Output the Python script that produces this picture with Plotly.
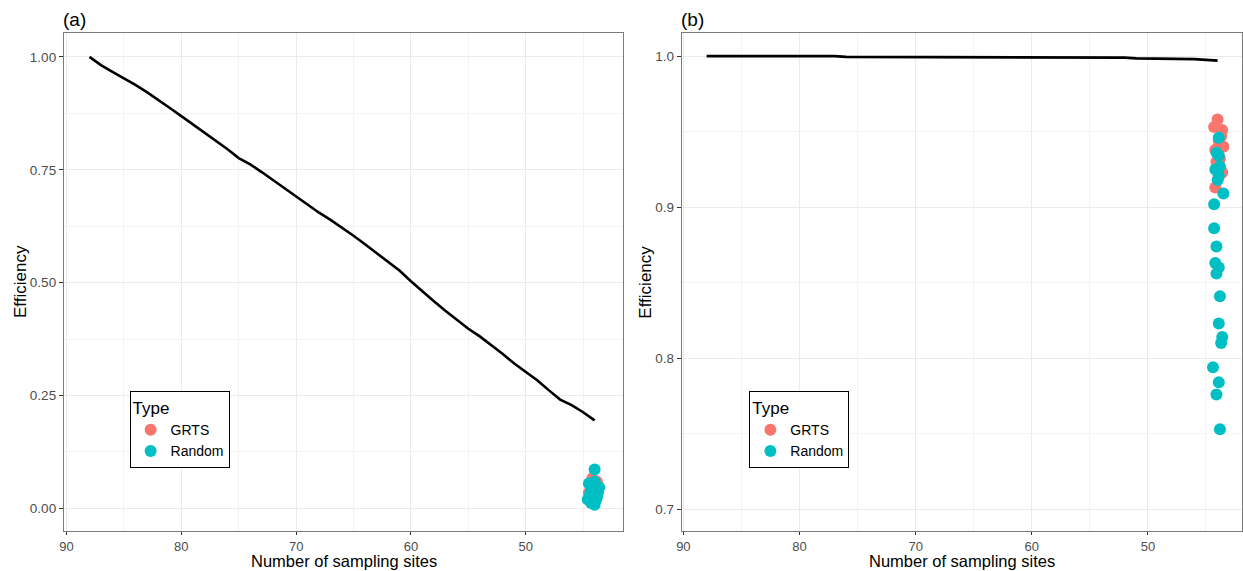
import plotly.graph_objects as go

# ---------------- data ----------------
sites = [88, 87, 86, 85, 84, 83, 82, 81, 80, 79, 78, 77, 76, 75, 74, 73, 72, 71, 70,
         69, 68, 67, 66, 65, 64, 63, 62, 61, 60, 59, 58, 57, 56, 55, 54, 53, 52, 51, 50,
         49, 48, 47, 46, 45, 44]
eff_a_line = [1.000, 0.982, 0.967, 0.953, 0.938, 0.922, 0.905, 0.887, 0.869, 0.851,
              0.833, 0.815, 0.796, 0.776, 0.762, 0.745, 0.727, 0.708, 0.690, 0.672,
              0.655, 0.639, 0.622, 0.604, 0.585, 0.566, 0.547, 0.527, 0.503, 0.480,
              0.459, 0.438, 0.417, 0.398, 0.381, 0.362, 0.342, 0.321, 0.303, 0.284,
              0.262, 0.241, 0.229, 0.213, 0.195]
eff_b_line = [1.000, 1.000, 1.000, 1.000, 1.000, 1.000, 1.000, 1.000, 1.000, 1.000,
              1.000, 1.000, 0.9995, 0.9995, 0.9995, 0.9995, 0.9995, 0.9995, 0.9995, 0.9995,
              0.9995, 0.9995, 0.9995, 0.9995, 0.9995, 0.9995, 0.9995, 0.9995, 0.9995, 0.9995,
              0.9995, 0.9995, 0.999, 0.999, 0.999, 0.999, 0.999, 0.9985, 0.9985, 0.998,
              0.998, 0.998, 0.998, 0.9975, 0.997]

# panel (a) points
a_grts_x = [44.2, 43.8, 44.4, 44.0, 43.7, 44.3, 44.1, 43.9, 44.5, 44.0]
a_grts_y = [0.067, 0.059, 0.055, 0.050, 0.048, 0.045, 0.042, 0.040, 0.035, 0.030]
a_rand_x = [44.0, 44.0, 44.5, 44.2, 43.6, 43.9, 44.3, 44.1, 43.7, 44.4, 44.0, 43.8,
            44.2, 44.6, 43.9, 44.1, 44.3, 44.0]
a_rand_y = [0.086, 0.059, 0.055, 0.050, 0.047, 0.045, 0.041, 0.037, 0.035, 0.032,
            0.028, 0.025, 0.023, 0.020, 0.018, 0.015, 0.012, 0.008]

# panel (b) points
b_grts_x = [44.0, 44.3, 43.6, 43.7, 43.9, 43.5, 44.2, 43.8, 44.1, 43.6, 43.9, 44.2]
b_grts_y = [0.958, 0.953, 0.951, 0.947, 0.944, 0.940, 0.938, 0.932, 0.930, 0.923,
            0.920, 0.913]
b_rand_x = [43.9, 44.1, 43.9, 43.8, 44.2, 43.9, 44.0, 43.5, 44.3, 44.3, 44.1, 44.2,
            43.9, 44.1, 43.8, 43.9, 43.6, 43.7, 44.4, 43.9, 44.1, 43.8]
b_rand_y = [0.946, 0.936, 0.934, 0.927, 0.925, 0.921, 0.918, 0.909, 0.902, 0.886,
            0.874, 0.863, 0.860, 0.856, 0.841, 0.823, 0.814, 0.810, 0.794, 0.784,
            0.776, 0.753]

x_ticks = [90, 80, 70, 60, 50]
x_minor = [85, 75, 65, 55, 45]
ya_ticks = [0.0, 0.25, 0.5, 0.75, 1.0]
ya_labels = ["0.00", "0.25", "0.50", "0.75", "1.00"]
ya_minor = [0.125, 0.375, 0.625, 0.875]
yb_ticks = [0.7, 0.8, 0.9, 1.0]
yb_labels = ["0.7", "0.8", "0.9", "1.0"]
yb_minor = [0.75, 0.85, 0.95]

RED = "#F8766D"
CYAN = "#00BFC4"
FONT = "Liberation Sans, Arial, sans-serif"

fig = go.Figure()

# panel a
fig.add_trace(go.Scatter(x=sites, y=eff_a_line, mode="lines", line=dict(color="black", width=2.6),
                         showlegend=False, xaxis="x", yaxis="y"))
fig.add_trace(go.Scatter(x=a_grts_x, y=a_grts_y, mode="markers", name="GRTS",
                         marker=dict(color=RED, size=12), xaxis="x", yaxis="y", legend="legend"))
fig.add_trace(go.Scatter(x=a_rand_x, y=a_rand_y, mode="markers", name="Random",
                         marker=dict(color=CYAN, size=12), xaxis="x", yaxis="y", legend="legend"))
# panel b
fig.add_trace(go.Scatter(x=sites, y=eff_b_line, mode="lines", line=dict(color="black", width=2.6),
                         showlegend=False, xaxis="x2", yaxis="y2"))
fig.add_trace(go.Scatter(x=b_grts_x, y=b_grts_y, mode="markers", name="GRTS",
                         marker=dict(color=RED, size=12), xaxis="x2", yaxis="y2", legend="legend2"))
fig.add_trace(go.Scatter(x=b_rand_x, y=b_rand_y, mode="markers", name="Random",
                         marker=dict(color=CYAN, size=12), xaxis="x2", yaxis="y2", legend="legend2"))

GRID = "#EBEBEB"
BORDER = "#7a7a7a"
TICKFONT = dict(family=FONT, size=13, color="#4D4D4D")
TITLEFONT = dict(family=FONT, size=16.5, color="black")

def xaxis(domain, rng, anchor):
    return dict(domain=domain, range=rng, anchor=anchor, tickmode="array", tickvals=x_ticks,
                ticktext=[str(v) for v in x_ticks], showgrid=True, gridcolor=GRID, gridwidth=1,
                minor=dict(tickmode="array", tickvals=x_minor, showgrid=True, gridcolor="#F3F3F3",
                           gridwidth=0.6, ticks=""),
                showline=True, linecolor=BORDER, linewidth=1.3, mirror=True,
                ticks="outside", ticklen=3, tickcolor="#333333", tickwidth=1,
                tickfont=TICKFONT, zeroline=False)

def yaxis(rng, anchor, tv, tt, minor):
    return dict(domain=[0, 1], range=rng, anchor=anchor, tickmode="array", tickvals=tv, ticktext=tt,
                showgrid=True, gridcolor=GRID, gridwidth=1,
                minor=dict(tickmode="array", tickvals=minor, showgrid=True, gridcolor="#F3F3F3",
                           gridwidth=0.6, ticks=""),
                showline=True, linecolor=BORDER, linewidth=1.3, mirror=True,
                ticks="outside", ticklen=4, tickcolor="#333333", tickwidth=1,
                tickfont=dict(family=FONT, size=13.5, color="#4D4D4D"), zeroline=False)

legend_style = dict(bgcolor="white", bordercolor="black", borderwidth=1,
                    font=dict(family=FONT, size=14, color="black"),
                    title=dict(text="Type", font=dict(family=FONT, size=17, color="black")),
                    itemsizing="constant", tracegroupgap=0,
                    xanchor="left", yanchor="top", yref="paper", xref="paper")

fig.update_layout(
    width=1243, height=571,
    margin=dict(l=64, r=1, t=33, b=40, autoexpand=False),
    paper_bgcolor="white", plot_bgcolor="white",
    font=dict(family=FONT),
    xaxis=xaxis([0, 0.4748], [90.22, 41.5], "y"),
    yaxis=yaxis([-0.05, 1.053], "x", ya_ticks, ya_labels, ya_minor),
    xaxis2=xaxis([0.5246, 1], [90.12, 41.9], "y2"),
    yaxis2=yaxis([0.6856, 1.0153], "x2", yb_ticks, yb_labels, yb_minor),
    legend=dict(x=0.0557, y=0.281, **legend_style),
    legend2=dict(x=0.5818, y=0.281, **legend_style),
    annotations=[
        dict(text="(a)", x=0, y=1, xref="paper", yref="paper", xanchor="left", yanchor="bottom",
             showarrow=False, font=dict(family=FONT, size=19, color="black"), yshift=1, xshift=-3),
        dict(text="(b)", x=0.5246, y=1, xref="paper", yref="paper", xanchor="left", yanchor="bottom",
             showarrow=False, font=dict(family=FONT, size=19, color="black"), yshift=1, xshift=-3),
        dict(text="Efficiency", x=-0.0373, y=0.5, xref="paper", yref="paper", xanchor="center",
             yanchor="middle", textangle=-90, showarrow=False, font=dict(family=FONT, size=17, color="black")),
        dict(text="Efficiency", x=0.4929, y=0.5, xref="paper", yref="paper", xanchor="center",
             yanchor="middle", textangle=-90, showarrow=False, font=dict(family=FONT, size=17, color="black")),
        dict(text="Number of sampling sites", x=0.2374, y=-0.0805, xref="paper", yref="paper",
             xanchor="center", yanchor="bottom", borderpad=0, showarrow=False, font=TITLEFONT),
        dict(text="Number of sampling sites", x=0.7623, y=-0.0805, xref="paper", yref="paper",
             xanchor="center", yanchor="bottom", borderpad=0, showarrow=False, font=TITLEFONT),
    ],
)

fig.write_html("out.html", config={"displayModeBar": False},
               post_script="document.body.style.margin='0';document.body.style.overflow='hidden';")
